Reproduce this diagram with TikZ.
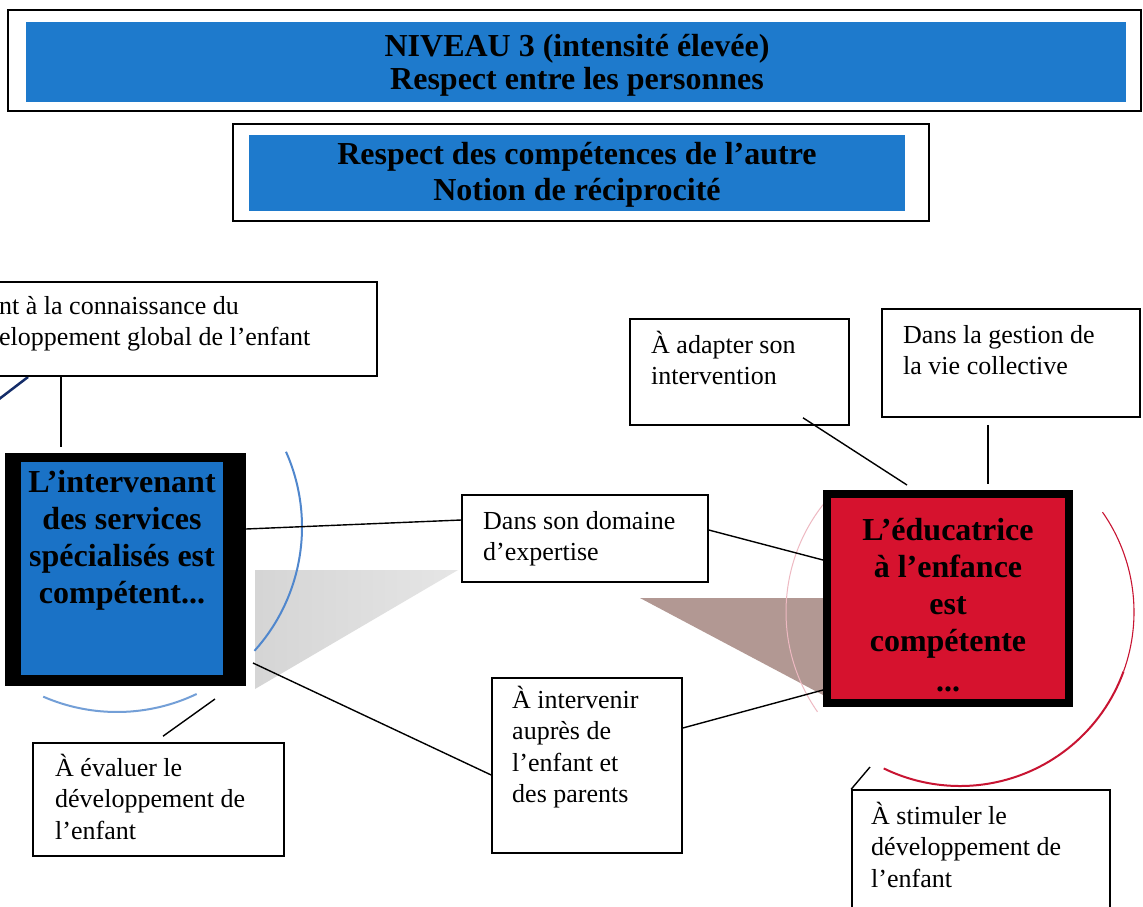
\documentclass[tikz,border=0pt]{standalone}
\usepackage{fontspec}
\setmainfont{Liberation Serif}
\usetikzlibrary{calc}
\definecolor{hblue}{RGB}{30,122,204}
\definecolor{kblue}{RGB}{26,114,198}
\definecolor{kred}{RGB}{214,18,46}
\definecolor{arcblue}{RGB}{80,135,205}
\definecolor{arcred}{RGB}{200,20,50}
\definecolor{navyline}{RGB}{20,45,105}
\definecolor{tribrown}{RGB}{178,152,147}
\newcommand{\bodyfont}{\fontsize{26}{31.5}\selectfont}
\newcommand{\boldfont}{\fontsize{32}{37}\selectfont\bfseries}
\newcommand{\bodystrut}{\rule{0pt}{26pt}}
\newcommand{\boldstrut}{\rule{0pt}{32pt}}
\begin{document}
\begin{tikzpicture}[x=1pt,y=-1pt,
  box/.style={draw=black, line width=1.6pt, fill=white, inner sep=0pt},
  txt/.style={anchor=north west, inner sep=0pt, align=left, font=\bodyfont},
  bigtxt/.style={anchor=north, inner sep=0pt, align=center, font=\boldfont},
  link/.style={draw=black, line width=1.4pt},
  plain/.style={inner sep=0pt, outer sep=0pt}]
\useasboundingbox (0,0) rectangle (1143,906);
\clip (0,0) rectangle (1143,906);
\fill[white] (0,0) rectangle (1143,906);

% headers
\node[plain, draw=black, line width=1.6pt, minimum width=1133pt, minimum height=101pt] (h1o) at (574.5,60.5) {};
\node[plain, fill=hblue, minimum width=1100pt, minimum height=80pt] (h1) at (576,62) {};
\node[anchor=north, inner sep=0pt, align=center, font=\fontsize{32}{33}\selectfont\bfseries] (h1t) at (577,24) {\boldstrut NIVEAU 3 (intensité élevée)\\Respect entre les personnes};
\node[plain, draw=black, line width=1.6pt, minimum width=696pt, minimum height=97pt] (h2o) at (581,172.5) {};
\node[plain, fill=hblue, minimum width=656pt, minimum height=76pt] (h2) at (577,173) {};
\node[anchor=north, inner sep=0pt, align=center, font=\fontsize{32}{36}\selectfont\bfseries] (h2t) at (577,132) {\boldstrut Respect des compétences de l’autre\\Notion de réciprocité};

% shaded triangles
\shade[left color=gray!33, right color=gray!20] (255,570) -- (458,570) -- (255,689) -- cycle;
\fill[tribrown] (640,598) -- (823,598) -- (823,695) -- cycle;

% circle arcs
\coordinate (lc) at (117,527);
\coordinate (rc) at (960,612);
\draw[arcblue, line width=2pt] ([shift={(24:185pt)}]lc) arc[start angle=24, end angle=-42, radius=185pt];
\draw[arcblue!80, line width=2pt] ([shift={(-64.5:185pt)}]lc) arc[start angle=-64.5, end angle=-113.5, radius=185pt];
\draw[arcred, line width=1.1pt] ([shift={(35:174pt)}]rc) arc[start angle=35, end angle=-20, radius=174pt];
\draw[arcred, line width=2pt] ([shift={(-20:174pt)}]rc) arc[start angle=-20, end angle=-116, radius=174pt];
\draw[arcred!30, line width=1pt] ([shift={(138:174pt)}]rc) arc[start angle=138, end angle=215, radius=174pt];
\draw[navyline, line width=2.5pt] (-10,406) -- (28,377);

% big boxes
\node[plain, fill=black, minimum width=241pt, minimum height=233pt] (Lo) at (125.5,569.5) {};
\node[plain, fill=kblue, minimum width=202pt, minimum height=213pt] (Li) at (122,568.5) {};
\node[bigtxt] (Lt) at (122,460) {\boldstrut L’intervenant\\des services\\spécialisés est\\compétent...};
\node[plain, fill=black, minimum width=250pt, minimum height=217pt] (Ro) at (948,598.5) {};
\node[plain, fill=kred, minimum width=234pt, minimum height=201pt] (Ri) at (948,598.5) {};
\node[bigtxt] (Rt) at (948,508) {\boldstrut L’éducatrice\\à l’enfance\\est\\compétente\\[3pt]...};

% small boxes
\node[box, minimum width=387pt, minimum height=94pt] (tl) at (183.5,329) {};
\node[txt] (tlt) at (-1,288) {\bodystrut nt à la connaissance du\\eloppement global de l’enfant};
\node[box, minimum width=219pt, minimum height=106pt] (adapt) at (739.5,372) {};
\node[txt] (adaptt) at (651,327) {\bodystrut À adapter son\\intervention};
\node[box, minimum width=258pt, minimum height=108pt] (gest) at (1011,363) {};
\node[txt] (gestt) at (903,317) {\bodystrut Dans la gestion de\\la vie collective};
\node[box, minimum width=246pt, minimum height=87pt] (dom) at (585,538.5) {};
\node[txt] (domt) at (483,503) {\bodystrut Dans son domaine\\d’expertise};
\node[box, minimum width=190pt, minimum height=175pt] (interv) at (587,765.5) {};
\node[txt] (intervt) at (512,682) {\bodystrut À intervenir\\auprès de\\l’enfant et\\des parents};
\node[box, minimum width=251pt, minimum height=113pt] (eval) at (158.5,799.5) {};
\node[txt] (evalt) at (55,750) {\bodystrut À évaluer le\\développement de\\l’enfant};
\node[box, minimum width=258pt, minimum height=140pt] (stim) at (981,860) {};
\node[txt] (stimt) at (871,798) {\bodystrut À stimuler le\\développement de\\l’enfant};

% connectors
\coordinate (lv) at (61,447);
\draw[link] (lv |- tl.south) -- (lv);
\draw[link] ([yshift=40.5pt]Lo.east) -- ([yshift=18.5pt]dom.west);
\draw[link] ([yshift=8.5pt]dom.east) -- ([yshift=38.5pt]Ro.west);
\draw[link] ([xshift=7pt,yshift=23pt]Lo.south east) -- ([yshift=-9.5pt]interv.west);
\draw[link] ([yshift=37.5pt]interv.east) -- ([yshift=-91.5pt]Ro.west);
\draw[link] ([xshift=63.5pt,yshift=8pt]adapt.south) -- ([xshift=-41pt,yshift=5pt]Ro.north);
\draw[link] ([xshift=-23pt,yshift=-7pt]gest.south) -- ([xshift=40pt,yshift=6pt]Ro.north);
\draw[link] ([xshift=-31pt,yshift=-13pt]Lo.south east) -- ([xshift=4.5pt,yshift=6pt]eval.north);
\draw[link] ([xshift=47pt,yshift=-60pt]Ro.south west) -- (stim.north west);
\end{tikzpicture}
\end{document}
